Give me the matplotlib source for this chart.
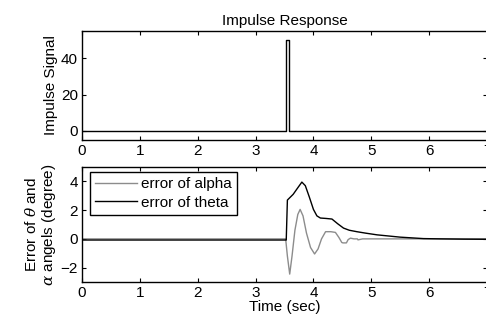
import matplotlib
matplotlib.use("Agg")
import matplotlib.pyplot as plt

plt.rcParams["font.family"] = ["Liberation Sans", "DejaVu Sans"]
plt.rcParams["font.size"] = 11
plt.rcParams["mathtext.fontset"] = "dejavuserif"

# impulse signal
imp_t = [0.0, 3.52, 3.52, 3.57, 3.57, 7.0]
imp_v = [0.0, 0.0, 50.0, 50.0, 0.0, 0.0]

# error of theta (black)
theta_t = [0.0, 3.53, 3.55, 3.60, 3.65, 3.72, 3.80, 3.86, 3.93, 4.00, 4.06, 4.12,
           4.22, 4.32, 4.42, 4.52, 4.62, 4.75, 4.90, 5.10, 5.30, 5.50, 5.70, 5.90,
           6.20, 6.60, 7.0]
theta_v = [-0.08, -0.08, 2.7, 2.9, 3.1, 3.5, 3.95, 3.7, 2.9, 2.05, 1.6, 1.45,
           1.42, 1.38, 1.05, 0.75, 0.6, 0.5, 0.4, 0.28, 0.2, 0.12, 0.07, 0.02,
           0.0, -0.02, -0.03]

# error of alpha (grey)
alpha_t = [0.0, 3.52, 3.55, 3.59, 3.63, 3.68, 3.73, 3.77, 3.82, 3.88, 3.95, 4.02,
           4.08, 4.14, 4.21, 4.30, 4.38, 4.44, 4.49, 4.51, 4.57, 4.60, 4.64, 4.70,
           4.76, 4.77, 4.85, 7.0]
alpha_v = [0.0, 0.0, -1.2, -2.45, -1.2, 0.6, 1.7, 2.05, 1.6, 0.4, -0.6, -1.05,
           -0.7, 0.0, 0.5, 0.5, 0.45, 0.1, -0.25, -0.28, -0.28, -0.05, 0.05, 0.0,
           0.0, -0.07, 0.0, 0.0]

fig = plt.figure(figsize=(4.86, 3.2), dpi=100)
left = 82 / 486
width = (487 - 82) / 486
ax1 = fig.add_axes([left, 1 - 140 / 320, width, (140 - 31) / 320])
ax2 = fig.add_axes([left, 1 - 282 / 320, width, (282 - 167) / 320])

ax1.plot(imp_t, imp_v, color="black", lw=1.0)
ax1.set_xlim(0, 7)
ax1.set_ylim(-5, 55)
ax1.set_yticks([0, 20, 40])
ax1.set_ylabel("Impulse Signal", labelpad=2)
ax1.set_title("Impulse Response", fontsize=11, pad=4)

ax2.plot(alpha_t, alpha_v, color="#8c8c8c", lw=1.0, label="error of alpha")
ax2.plot(theta_t, theta_v, color="black", lw=1.0, label="error of theta")
ax2.set_xlim(0, 7)
ax2.set_ylim(-3, 5)
ax2.set_yticks([-2, 0, 2, 4])
ax2.set_ylabel("Error of $\\theta$ and\n$\\alpha$ angels (degree)", linespacing=1.05,
               labelpad=2)
ax2.set_xlabel("Time (sec)", labelpad=0)
leg = ax2.legend(loc="upper left", bbox_to_anchor=(0.02, 0.96), fancybox=False,
                 edgecolor="black", framealpha=1, borderpad=0.35, labelspacing=0.3,
                 handlelength=2.7, handletextpad=0.3, borderaxespad=0)
leg.get_frame().set_linewidth(1.0)

for ax in (ax1, ax2):
    ax.set_xticks(range(0, 8))
    ax.tick_params(direction="in", top=True, right=True, length=3, width=0.8, pad=3)
    for s in ax.spines.values():
        s.set_linewidth(1.0)

fig.savefig("out.png", dpi=100)
